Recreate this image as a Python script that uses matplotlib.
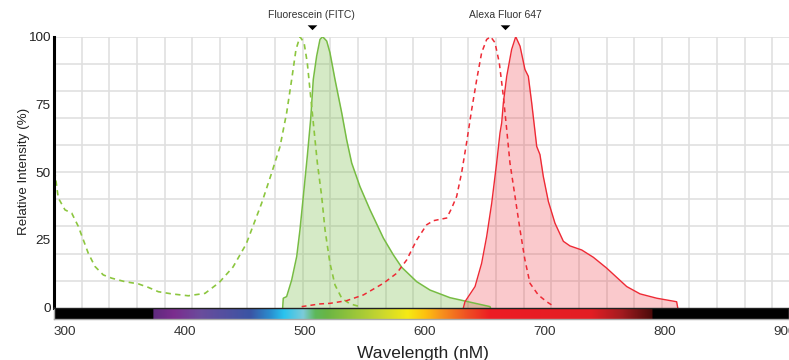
import matplotlib
matplotlib.use("Agg")
import matplotlib.pyplot as plt
import numpy as np
from matplotlib.colors import LinearSegmentedColormap

plt.rcParams['font.family'] = ['Liberation Sans', 'DejaVu Sans']

# ---------------- data (wavelength nm, relative intensity %) ----------------
fitc_ex_nm = [290.3, 294.4, 300, 305.6, 311.1, 315.3, 319.4, 325, 331.9, 338.9, 350, 361.1,
              369.4, 377.8, 388.9, 402.8, 416.7, 428.5, 440, 451, 463.9, 472.2, 479.2, 484.7,
              488.9, 492.5, 495.8, 499.2, 501.9, 504.7, 507.5, 510.3, 513.9, 516.7, 520.8,
              525, 530.6, 537.5, 545.8]
fitc_ex_val = [54.0, 40.5, 36.1, 34.9, 30.0, 25.0, 20.1, 15.2, 12.1, 10.9, 9.6, 8.8,
               7.5, 5.9, 5.1, 4.4, 5.3, 9.3, 15.0, 23.5, 38.6, 49.7, 59.5, 71.9,
               84.2, 95.3, 100, 97.8, 90.4, 78.0, 65.7, 53.4, 41.1, 28.7, 16.4,
               8.4, 3.5, 1.4, 0.4]

fitc_em_nm = [481.4, 481.9, 484.7, 488.9, 493.1, 495.8, 498.6, 501.9, 504.7, 506.9, 509.7,
              512.5, 514.7, 518.1, 520.8, 525, 530.6, 534.7, 538.9, 545.8, 554.2, 565.3,
              573.6, 580.6, 593.1, 604.2, 620.8, 631.9, 654.2, 654.5]
fitc_em_val = [0, 3.5, 4.1, 10.2, 18.9, 28.7, 41.1, 55.8, 69.4, 84.2, 92.8,
               99.0, 100, 98.4, 94.1, 84.2, 71.9, 62.0, 53.4, 44.7, 36.1, 25.7,
               19.5, 14.9, 9.6, 6.5, 3.7, 2.6, 0.4, 0]

alexa_ex_nm = [497.2, 512.5, 520.8, 534.7, 548.6, 565.3, 576.4, 584.7, 593.1, 601.4, 606.9,
               618.1, 622, 626.4, 630.6, 634.7, 638.9, 643.1, 647.2, 651.4, 654.7, 658.3,
               661.9, 665.3, 668.1, 670.8, 675, 679.2, 683.3, 687.5, 694.4, 701.4, 705.6, 706.4]
alexa_ex_val = [0.4, 1.4, 1.6, 2.6, 4.7, 9.0, 12.7, 17.6, 25.0, 30.6, 32.1,
                33.1, 36.5, 41.1, 50.0, 61.0, 73.1, 84.2, 94.1, 99.0, 100, 97.8,
                90.4, 78.0, 65.7, 53.4, 41.1, 28.7, 17.6, 9.0, 4.7, 2.2, 1.0, 0]

alexa_em_nm = [632, 633.3, 641.7, 647.2, 651.4, 655.6, 659.7, 662.5, 663.9, 665.3, 668.1,
               672.2, 675.6, 679.2, 683.3, 686.1, 688.9, 693.1, 695.8, 698.6, 702.8, 708.3,
               715.3, 720.8, 730.6, 740.3, 751.4, 768.1, 779.2, 793.1, 809.7, 810.6]
alexa_em_val = [0, 2.2, 7.8, 16.4, 26.3, 38.6, 53.4, 64.5, 68.2, 75.6, 85.4,
                95.3, 100, 96.5, 87.9, 85.4, 75.6, 59.5, 56.5, 48.4, 39.2, 31.2,
                24.5, 22.8, 21.3, 18.6, 14.6, 7.8, 5.1, 3.5, 2.2, 0]

dye_names = ["Fluorescein (FITC)", "Alexa Fluor 647"]
dye_marker_nm = [505.6, 666.7]

x_ticks = [300, 400, 500, 600, 700, 800, 900]
y_ticks = [0, 25, 50, 75, 100]

# spectrum bar colour stops (nm, colour)
spec_nm = [373, 390, 412.5, 454, 471, 481.7, 498, 508, 518, 562.5, 585, 600, 612.5, 635,
           654, 737.5, 762.5, 789]
spec_col = ['#5E2A7E', '#7B2D8E', '#6A4C9C', '#3A54A4', '#2A8FD0', '#29C3EF', '#7CCBD8',
            '#5DB85B', '#6AB544', '#C8D62F', '#F6EA14', '#FDC010', '#F7941D', '#EF4E23',
            '#ED1C24', '#E31E24', '#A51C20', '#4A0A0A']

# ---------------- layout ----------------
W, H = 789, 360
fig = plt.figure(figsize=(W / 100, H / 100), dpi=100)
xmin, xmax = 290.42, 903.33
left = 53.5 / W
ax_bottom = 1 - 307.7 / H
ax_top = 1 - 36.7 / H
ax = fig.add_axes([left, ax_bottom, 1 - left, ax_top - ax_bottom])
bar = fig.add_axes([left, 1 - 319.3 / H, 1 - left, (319.3 - 307.7) / H], sharex=ax)

ax.set_xlim(xmin, xmax)
ax.set_ylim(0, 100)

# grid
grid_col = '#E0E0E0'
for gx in np.arange(313.9, xmax, 23.02):
    ax.axvline(gx, color=grid_col, lw=1.2, zorder=0)
for gy in np.arange(10, 101, 10):
    ax.axhline(gy, color=grid_col, lw=1.2, zorder=0)

green = '#77BC43'
green_d = '#8CC63F'
red = '#EE2A35'

ax.fill_between(fitc_em_nm, fitc_em_val, 0, color=green, alpha=0.3, lw=0, zorder=1)
ax.fill_between(alexa_em_nm, alexa_em_val, 0, color=red, alpha=0.25, lw=0, zorder=1)
ax.plot(fitc_em_nm, fitc_em_val, color=green, lw=1.1, zorder=3)
ax.plot(alexa_em_nm, alexa_em_val, color=red, lw=1.0, zorder=3)
ax.plot(fitc_ex_nm, fitc_ex_val, color=green_d, lw=1.2, ls=(0, (3.2, 2.6)), zorder=3)
ax.plot(alexa_ex_nm, alexa_ex_val, color=red, lw=1.1, ls=(0, (3.2, 2.6)), zorder=3)

# spines
for s in ['top', 'right', 'bottom']:
    ax.spines[s].set_visible(False)
ax.spines['left'].set_linewidth(2.2)
ax.spines['left'].set_color('black')
ax.spines['left'].set_zorder(5)

ax.set_yticks(y_ticks)
ax.tick_params(axis='y', length=0, pad=2, labelsize=9.7, labelcolor='#222222')
ax.tick_params(axis='x', bottom=False, labelbottom=False)
ax.set_ylabel('Relative Intensity (%)', fontsize=9.6, color='#222222')
ax.yaxis.label.set_va('center')
ax.yaxis.set_label_coords((24 - 53.5) / (W - 53.5), (307.7 - 171) / 271.0)

# dye markers / labels
trans = ax.get_xaxis_transform()
tri = [(-1.0, 0.45), (1.0, 0.45), (0.0, -0.55)]
for name, xm in zip(dye_names, dye_marker_nm):
    ax.text(xm, (307.7 - 15) / 271.0, name, transform=trans, ha='center', va='center',
            fontsize=7.5, color='#333333', clip_on=False)
    ax.plot([xm], [(307.7 - 27.3) / 271.0], transform=trans, marker=tri, ms=7,
            color='black', mec='none', clip_on=False)

# spectrum bar
xs = np.linspace(xmin, xmax, 1600)
def spec_rgb(x):
    from matplotlib.colors import to_rgb
    cols = np.array([to_rgb(c) for c in spec_col])
    out = np.zeros((len(x), 3))
    inside = (x >= spec_nm[0]) & (x <= spec_nm[-1])
    for k in range(3):
        out[:, k] = np.interp(x, spec_nm, cols[:, k])
    out[~inside] = 0
    return out
img = spec_rgb(xs)[None, :, :]
bar.imshow(img, extent=[xmin, xmax, 0, 1], aspect='auto', interpolation='bilinear')
bar.set_ylim(0, 1)
bar.set_yticks([])
for s in bar.spines.values():
    s.set_color('#A8A8A8')
    s.set_linewidth(1.0)
bar.spines['top'].set_color('#222222')
bar.set_xlim(xmin, xmax)
bar.set_xticks(x_ticks)
bar.tick_params(axis='x', length=0, pad=5, labelsize=9.7, labelcolor='#333333')
bar.set_xlabel('Wavelength (nM)', fontsize=12.5, color='#222222')
bar.xaxis.label.set_va('baseline')
bar.xaxis.set_label_coords(0.502, (319.3 - 358.3) / 11.6)

fig.savefig('out.png', dpi=100)
